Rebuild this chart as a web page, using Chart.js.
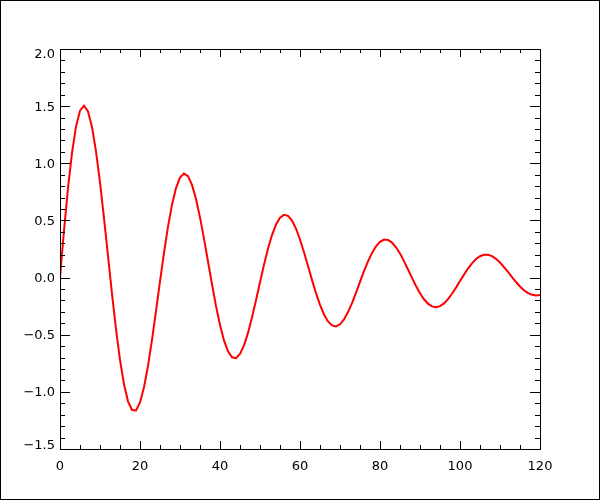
<!DOCTYPE html>
<html>
<head>
<meta charset="utf-8">
<script src="https://cdn.jsdelivr.net/npm/chart.js@4.4.1/dist/chart.umd.min.js"></script>
<style>
  html, body { margin: 0; padding: 0; background: #fff; }
  #wrap { position: relative; width: 600px; height: 500px; }
  canvas { display: block; }
</style>
</head>
<body>
<div id="wrap"><canvas id="chart" width="600" height="500"></canvas></div>
<script>
// sample positions along x (0..120, one per unit)
const xValues = [
    0, 1, 2, 3, 4, 5, 6, 7, 8, 9, 10, 11, 12, 13, 14, 15, 16, 17, 18, 19,
    20, 21, 22, 23, 24, 25, 26, 27, 28, 29, 30, 31, 32, 33, 34, 35, 36, 37, 38, 39,
    40, 41, 42, 43, 44, 45, 46, 47, 48, 49, 50, 51, 52, 53, 54, 55, 56, 57, 58, 59,
    60, 61, 62, 63, 64, 65, 66, 67, 68, 69, 70, 71, 72, 73, 74, 75, 76, 77, 78, 79,
    80, 81, 82, 83, 84, 85, 86, 87, 88, 89, 90, 91, 92, 93, 94, 95, 96, 97, 98, 99,
    100, 101, 102, 103, 104, 105, 106, 107, 108, 109, 110, 111, 112, 113, 114, 115, 116, 117, 118, 119,
    120
];

// damped wave
const yValues = [
    0.000, 0.412, 0.783, 1.091, 1.321, 1.460, 1.504, 1.454, 1.317, 1.105,
    0.833, 0.521, 0.189, -0.142, -0.451, -0.720, -0.934, -1.083, -1.159, -1.162,
    -1.093, -0.959, -0.773, -0.546, -0.294, -0.034, 0.217, 0.446, 0.638, 0.783,
    0.875, 0.910, 0.887, 0.811, 0.688, 0.527, 0.341, 0.141, -0.060, -0.249,
    -0.416, -0.550, -0.646, -0.698, -0.705, -0.669, -0.593, -0.484, -0.349, -0.198,
    -0.041, 0.112, 0.252, 0.372, 0.464, 0.524, 0.549, 0.540, 0.498, 0.427,
    0.333, 0.222, 0.102, -0.020, -0.136, -0.239, -0.323, -0.384, -0.419, -0.428,
    -0.409, -0.366, -0.302, -0.223, -0.133, -0.038, 0.056, 0.142, 0.216, 0.274,
    0.313, 0.332, 0.329, 0.306, 0.265, 0.210, 0.144, 0.071, -0.003, -0.073,
    -0.137, -0.190, -0.228, -0.252, -0.259, -0.250, -0.226, -0.189, -0.142, -0.088,
    -0.030, 0.026, 0.079, 0.125, 0.162, 0.187, 0.200, 0.200, 0.188, 0.164,
    0.132, 0.092, 0.049, 0.004, -0.039, -0.078, -0.111, -0.136, -0.151, -0.157,
    -0.152
];

// axis ticks
const xTicks = [0, 20, 40, 60, 80, 100, 120];
const yTicks = [-1.5, -1.0, -0.5, 0.0, 0.5, 1.0, 1.5, 2.0];
const xMinorStep = 5;
const yMinorStep = 0.1;

const fontSpec = { family: 'DejaVu Sans', size: 13 };
const yLabel = v => (v < 0 ? '\u2212' : '') + Math.abs(v).toFixed(1);

// IDL style: box round the plot, ticks pointing inward on all four sides,
// y labels at the ends pulled a few px inside the box
const boxTicks = {
    id: 'boxTicks',
    afterDraw(chart) {
        const { ctx, chartArea: a, scales: { x, y } } = chart;
        ctx.save();
        ctx.strokeStyle = '#000';
        ctx.lineWidth = 1;
        ctx.strokeRect(a.left + 0.5, a.top + 0.5, a.right - a.left, a.bottom - a.top);
        ctx.beginPath();
        for (let v = x.min; v <= x.max + 1e-9; v += xMinorStep) {
            const px = Math.round(x.getPixelForValue(v)) + 0.5;
            const len = xTicks.includes(Math.round(v)) ? 8 : 4;
            ctx.moveTo(px, a.bottom); ctx.lineTo(px, a.bottom - len);
            ctx.moveTo(px, a.top); ctx.lineTo(px, a.top + len);
        }
        for (let i = 0; i <= Math.round((y.max - y.min) / yMinorStep); i++) {
            const v = y.min + i * yMinorStep;
            const py = Math.round(y.getPixelForValue(v)) + 0.5;
            const major = yTicks.some(t => Math.abs(t - v) < 1e-6);
            const len = major ? 10 : 5;
            ctx.moveTo(a.left, py); ctx.lineTo(a.left + len, py);
            ctx.moveTo(a.right, py); ctx.lineTo(a.right - len, py);
        }
        ctx.stroke();

        ctx.fillStyle = '#000';
        ctx.font = fontSpec.size + 'px "' + fontSpec.family + '"';
        ctx.textAlign = 'right';
        ctx.textBaseline = 'middle';
        yTicks.forEach(v => {
            let py = y.getPixelForValue(v);
            py = Math.min(Math.max(py, a.top + 5), a.bottom - 4);
            ctx.fillText(yLabel(v), a.left - 5, py + 1);
        });
        ctx.restore();
    }
};

const frame = {
    id: 'frame',
    afterDraw(chart) {
        const { ctx, width, height } = chart;
        ctx.save();
        ctx.strokeStyle = '#000';
        ctx.lineWidth = 1;
        ctx.strokeRect(0.5, 0.5, width - 1, height - 1);
        ctx.restore();
    }
};

new Chart(document.getElementById('chart'), {
    type: 'line',
    data: {
        datasets: [{
            data: xValues.map((v, i) => ({ x: v, y: yValues[i] })),
            borderColor: '#ff0000',
            borderWidth: 2,
            pointRadius: 0,
            tension: 0,
            fill: false
        }]
    },
    options: {
        responsive: false,
        animation: false,
        devicePixelRatio: 1,
        layout: { padding: { top: 49, right: 60, left: 0, bottom: 0 } },
        plugins: { legend: { display: false }, tooltip: { enabled: false } },
        scales: {
            x: {
                type: 'linear', min: 0, max: 120,
                afterFit: s => { s.height = 51; },
                afterBuildTicks: s => { s.ticks = xTicks.map(v => ({ value: v })); },
                grid: { display: false, drawTicks: false },
                border: { display: false },
                ticks: { color: '#000', font: fontSpec, padding: 10, maxRotation: 0,
                         callback: v => String(v) }
            },
            y: {
                type: 'linear', min: -1.5, max: 2.0,
                afterFit: s => { s.width = 60; },
                afterBuildTicks: s => { s.ticks = yTicks.map(v => ({ value: v })); },
                grid: { display: false, drawTicks: false },
                border: { display: false },
                ticks: { display: false }
            }
        }
    },
    plugins: [boxTicks, frame]
});
</script>
</body>
</html>
